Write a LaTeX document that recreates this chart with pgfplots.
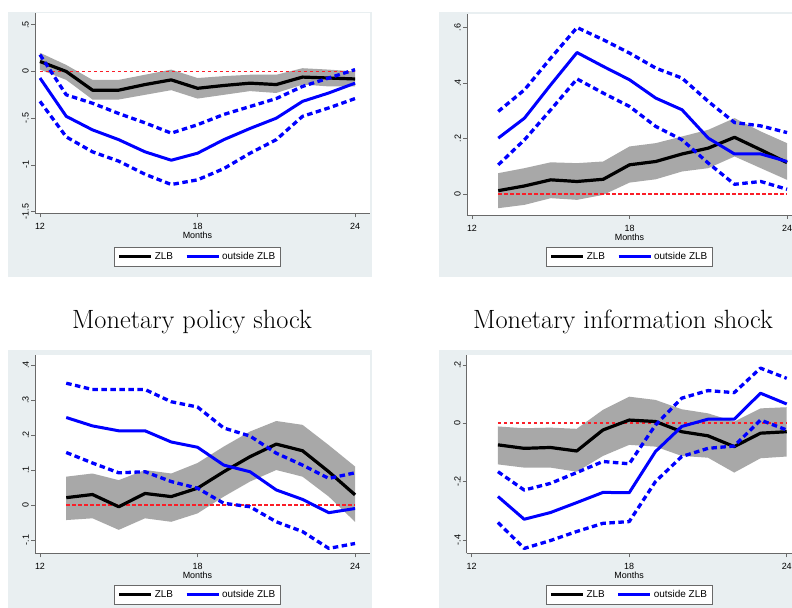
\documentclass[border=0pt]{standalone}
\usepackage{fontspec}
\setsansfont{Liberation Sans}
\usepackage{pgfplots}
\pgfplotsset{compat=1.18}
\definecolor{bgc}{RGB}{233,239,241}
\definecolor{bandc}{RGB}{168,168,168}
\definecolor{axc}{RGB}{105,105,105}
\definecolor{zeroc}{RGB}{250,30,40}
\pgfplotsset{
  stata/.style={
    scale only axis, width=335bp,
    axis x line*=bottom, axis y line*=left,
    axis line style={-,draw=axc,line width=0.8bp},
    axis background/.style={fill=white},
    xmin=11.81, xmax=24.57,
    xtick={12,18,24}, xticklabels={12,18,24},
    tick align=outside, major tick length=4bp,
    tick style={draw=axc,line width=0.6bp},
    xticklabel style={font=\sffamily\fontsize{9}{10}\selectfont, inner sep=0pt, anchor=north},
    yticklabel style={font=\sffamily\fontsize{9}{10}\selectfont, inner sep=0pt, rotate=90, anchor=south},
    xticklabel shift=6bp, yticklabel shift=2bp,
    xlabel={Months},
    xlabel style={font=\sffamily\fontsize{9}{10}\selectfont, inner sep=0pt, at={(axis description cs:0.485,0)}, anchor=north, yshift=-18.5bp},
    legend columns=2,
    legend cell align=left,
    legend image code/.code={\draw[##1] (0bp,0bp) -- (32bp,0bp);},
    legend style={draw=axc, line width=0.6bp, fill=white, anchor=north,
      font=\sffamily\fontsize{10}{11}\selectfont, inner xsep=3bp, inner ysep=3bp,
      /tikz/every even column/.append style={column sep=10bp}},
    zlb/.style={black, line width=3.2bp, line join=round},
    out/.style={blue, line width=3bp, line join=round},
    outci/.style={blue, line width=3.3bp, dash pattern=on 5.5bp off 3.5bp, line join=round, forget plot},
    band/.style={fill=bandc, draw=none, forget plot},
    zeroline/.style={draw=zeroc, line width=1.8bp, dash pattern=on 3.5bp off 2.5bp, forget plot},
  }
}
\begin{document}
\begin{tikzpicture}[x=1bp,y=1bp]
\path[use as bounding box] (0bp,0bp) rectangle (792bp,608bp);
\fill[bgc] (8bp,331bp) rectangle (372bp,596bp);
\fill[bgc] (439bp,331bp) rectangle (800bp,596bp);
\fill[bgc] (8bp,0bp) rectangle (372bp,258bp);
\fill[bgc] (439bp,0bp) rectangle (800bp,258bp);
\node[font=\fontsize{26.5}{30}\selectfont] at (192bp,286bp) {Monetary policy shock};
\node[font=\fontsize{26.5}{30}\selectfont] at (623bp,286bp) {Monetary information shock};

% Panel 1
\begin{axis}[stata, at={(35bp,394.7bp)}, anchor=south west, height=200.3bp,
  ymin=-1.518, ymax=0.626, ytick={-1.5,-1,-0.5,0,0.5}, yticklabels={-1.5,-1,-.5,0,.5},
  legend style={at={(axis description cs:0.485,-0.1685)}}]
\addplot[band] coordinates {(12,0.2) (13,0.07) (14,-0.09) (15,-0.09) (16,-0.035) (17,0.02) (18,-0.07) (19,-0.05) (20,-0.035) (21,-0.035) (22,0.035) (23,0.02) (24,0.0)
 (24,-0.16) (23,-0.16) (22,-0.14) (21,-0.23) (20,-0.21) (19,-0.25) (18,-0.29) (17,-0.2) (16,-0.25) (15,-0.3) (14,-0.3) (13,-0.09) (12,0.02) (12,0.2)};
\addplot[zeroline] coordinates {(12,0) (24,0)};
\addplot[zlb] coordinates {(12,0.107) (13,0.0) (14,-0.2) (15,-0.2) (16,-0.14) (17,-0.09) (18,-0.18) (19,-0.15) (20,-0.125) (21,-0.14) (22,-0.06) (23,-0.07) (24,-0.08)};
\addplot[out] coordinates {(12,-0.07) (13,-0.48) (14,-0.625) (15,-0.73) (16,-0.86) (17,-0.95) (18,-0.875) (19,-0.73) (20,-0.61) (21,-0.5) (22,-0.32) (23,-0.23) (24,-0.125)};
\addplot[outci] coordinates {(12,0.18) (13,-0.25) (14,-0.34) (15,-0.45) (16,-0.55) (17,-0.66) (18,-0.57) (19,-0.46) (20,-0.375) (21,-0.29) (22,-0.16) (23,-0.07) (24,0.02)};
\addplot[outci] coordinates {(12,-0.32) (13,-0.70) (14,-0.86) (15,-0.96) (16,-1.1) (17,-1.21) (18,-1.16) (19,-1.04) (20,-0.875) (21,-0.73) (22,-0.48) (23,-0.39) (24,-0.29)};
\legend{ZLB, outside ZLB}
\end{axis}

% Panel 2
\begin{axis}[stata, at={(467bp,393bp)}, anchor=south west, height=201bp,
  ymin=-0.0745, ymax=0.6486, ytick={0,0.2,0.4,0.6}, yticklabels={0,.2,.4,.6},
  legend style={at={(axis description cs:0.485,-0.159)}}]
\addplot[band] coordinates {(13,0.076) (14,0.094) (15,0.115) (16,0.112) (17,0.118) (18,0.172) (19,0.184) (20,0.208) (21,0.232) (22,0.274) (23,0.226) (24,0.184)
 (24,0.052) (23,0.094) (22,0.136) (21,0.094) (20,0.082) (19,0.054) (18,0.042) (17,-0.002) (16,-0.020) (15,-0.014) (14,-0.038) (13,-0.050) (13,0.076)};
\addplot[zeroline] coordinates {(13,0) (24,0)};
\addplot[zlb] coordinates {(13,0.013) (14,0.030) (15,0.052) (16,0.046) (17,0.054) (18,0.106) (19,0.118) (20,0.145) (21,0.166) (22,0.205) (23,0.160) (24,0.114)};
\addplot[out] coordinates {(13,0.202) (14,0.274) (15,0.394) (16,0.51) (17,0.46) (18,0.412) (19,0.346) (20,0.304) (21,0.202) (22,0.145) (23,0.145) (24,0.118)};
\addplot[outci] coordinates {(13,0.298) (14,0.376) (15,0.49) (16,0.60) (17,0.556) (18,0.508) (19,0.454) (20,0.418) (21,0.334) (22,0.258) (23,0.246) (24,0.222)};
\addplot[outci] coordinates {(13,0.106) (14,0.196) (15,0.304) (16,0.415) (17,0.364) (18,0.316) (19,0.244) (20,0.196) (21,0.112) (22,0.036) (23,0.046) (24,0.018)};
\legend{ZLB, outside ZLB}
\end{axis}

% Panel 3
\begin{axis}[stata, at={(35bp,54.7bp)}, anchor=south west, height=198.3bp,
  ymin=-0.138, ymax=0.4286, ytick={-0.1,0,0.1,0.2,0.3,0.4}, yticklabels={-.1,0,.1,.2,.3,.4},
  legend style={at={(axis description cs:0.485,-0.16)}}]
\addplot[band] coordinates {(13,0.081) (14,0.09) (15,0.071) (16,0.1) (17,0.09) (18,0.12) (19,0.167) (20,0.21) (21,0.24) (22,0.229) (23,0.171) (24,0.11)
 (24,-0.048) (23,0.024) (22,0.081) (21,0.1) (20,0.067) (19,0.024) (18,-0.024) (17,-0.048) (16,-0.038) (15,-0.071) (14,-0.038) (13,-0.043) (13,0.081)};
\addplot[zeroline] coordinates {(13,0) (24,0)};
\addplot[zlb] coordinates {(13,0.021) (14,0.03) (15,-0.005) (16,0.033) (17,0.024) (18,0.048) (19,0.095) (20,0.138) (21,0.174) (22,0.155) (23,0.095) (24,0.029)};
\addplot[out] coordinates {(13,0.25) (14,0.226) (15,0.212) (16,0.212) (17,0.18) (18,0.165) (19,0.114) (20,0.095) (21,0.043) (22,0.016) (23,-0.022) (24,-0.01)};
\addplot[outci] coordinates {(13,0.348) (14,0.33) (15,0.33) (16,0.33) (17,0.295) (18,0.28) (19,0.22) (20,0.197) (21,0.148) (22,0.114) (23,0.076) (24,0.092)};
\addplot[outci] coordinates {(13,0.15) (14,0.12) (15,0.092) (16,0.095) (17,0.067) (18,0.048) (19,0.005) (20,-0.005) (21,-0.048) (22,-0.076) (23,-0.124) (24,-0.11)};
\legend{ZLB, outside ZLB}
\end{axis}

% Panel 4
\begin{axis}[stata, at={(466.7bp,54.7bp)}, anchor=south west, height=198.3bp,
  ymin=-0.4457, ymax=0.234, ytick={-0.4,-0.2,0,0.2}, yticklabels={-.4,-.2,0,.2},
  legend style={at={(axis description cs:0.485,-0.16)}}]
\addplot[band] coordinates {(13,-0.011) (14,-0.017) (15,-0.015) (16,-0.019) (17,0.046) (18,0.091) (19,0.08) (20,0.048) (21,0.034) (22,0.006) (23,0.051) (24,0.055)
 (24,-0.114) (23,-0.12) (22,-0.169) (21,-0.118) (20,-0.112) (19,-0.08) (18,-0.074) (17,-0.112) (16,-0.166) (15,-0.152) (14,-0.152) (13,-0.141) (13,-0.011)};
\addplot[zeroline] coordinates {(13,0) (24,0)};
\addplot[zlb] coordinates {(13,-0.074) (14,-0.086) (15,-0.083) (16,-0.095) (17,-0.023) (18,0.011) (19,0.006) (20,-0.029) (21,-0.043) (22,-0.08) (23,-0.034) (24,-0.029)};
\addplot[out] coordinates {(13,-0.251) (14,-0.329) (15,-0.306) (16,-0.272) (17,-0.237) (18,-0.238) (19,-0.097) (20,-0.011) (21,0.014) (22,0.014) (23,0.103) (24,0.066)};
\addplot[outci] coordinates {(13,-0.166) (14,-0.229) (15,-0.206) (16,-0.169) (17,-0.131) (18,-0.139) (19,-0.006) (20,0.086) (21,0.112) (22,0.105) (23,0.189) (24,0.154)};
\addplot[outci] coordinates {(13,-0.34) (14,-0.429) (15,-0.402) (16,-0.371) (17,-0.343) (18,-0.337) (19,-0.20) (20,-0.114) (21,-0.086) (22,-0.078) (23,0.011) (24,-0.023)};
\legend{ZLB, outside ZLB}
\end{axis}
\end{tikzpicture}
\end{document}
